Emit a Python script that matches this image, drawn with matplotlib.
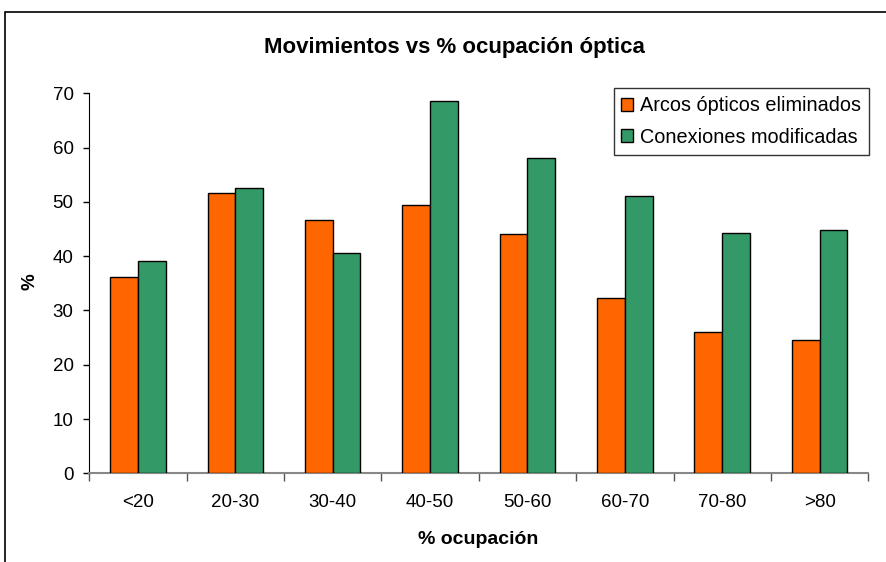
import matplotlib
matplotlib.use("Agg")
from matplotlib import pyplot as plt
from matplotlib.patches import Rectangle
import numpy as np

plt.rcParams['font.family'] = ['Liberation Sans', 'DejaVu Sans']

categories = ["<20", "20-30", "30-40", "40-50", "50-60", "60-70", "70-80", ">80"]
arcos = [36.2, 51.7, 46.6, 49.4, 44.0, 32.3, 26.0, 24.6]
conexiones = [39.2, 52.5, 40.6, 68.6, 58.0, 51.1, 44.3, 44.9]

W, H = 887, 562
fig = plt.figure(figsize=(W / 100, H / 100), dpi=100)
ax = fig.add_axes([89.3 / W, 1 - 473.3 / H, (868.3 - 89.3) / W, (473.3 - 93.3) / H])

# outer chart border (only left/top visible in the picture)
fig.patches.append(Rectangle((5 / W, -0.1), 1.2, 1 - 12 / H + 0.1, transform=fig.transFigure,
                             fill=False, edgecolor="black", linewidth=1.2))

x = np.arange(len(categories))
bw = 0.285
ax.bar(x - bw / 2, arcos, bw, color="#FF6600", edgecolor="black", linewidth=1,
       label="Arcos ópticos eliminados", zorder=3)
ax.bar(x + bw / 2, conexiones, bw, color="#339966", edgecolor="black", linewidth=1,
       label="Conexiones modificadas", zorder=3)

ax.set_xlim(-0.5, len(categories) - 0.5)
ax.set_ylim(0, 70)
ax.set_yticks(range(0, 71, 10))
ax.tick_params(axis="y", labelsize=13.5, length=4.3, width=1, direction="out", pad=7)

# category boundaries as major ticks, labels on minor ticks
ax.set_xticks(np.arange(-0.5, len(categories), 1.0))
ax.set_xticklabels([])
ax.set_xticks(x, minor=True)
ax.set_xticklabels(categories, minor=True, fontsize=13.5)
ax.tick_params(axis="x", which="major", length=6, width=1, color="#555555")
ax.tick_params(axis="x", which="minor", length=0, pad=15)

for s in ["top", "right"]:
    ax.spines[s].set_visible(False)
ax.spines["left"].set_color("black")
ax.spines["bottom"].set_color("#888888")
ax.spines["bottom"].set_linewidth(1.5)

fig.text(30 / W, 1 - 282 / H, "%", rotation=90, ha="center", va="center",
         fontsize=13.5, fontweight="bold")
fig.text(478 / W, 1 - 540 / H, "% ocupación", ha="center", va="center",
         fontsize=14, fontweight="bold")
fig.text(454 / W, 1 - 47 / H, "Movimientos vs % ocupación óptica", ha="center", va="center",
         fontsize=16, fontweight="bold")

leg = ax.legend(loc="upper right", bbox_to_anchor=(869.3 / W, 1 - 88.3 / H),
                bbox_transform=fig.transFigure, fontsize=14.3, frameon=True, fancybox=False,
                handlelength=0.6, handleheight=0.6, handletextpad=0.35, borderpad=0.4,
                labelspacing=0.62, borderaxespad=0)
leg.get_frame().set_edgecolor("black")
leg.get_frame().set_linewidth(1)

fig.savefig("out.png", dpi=100)
